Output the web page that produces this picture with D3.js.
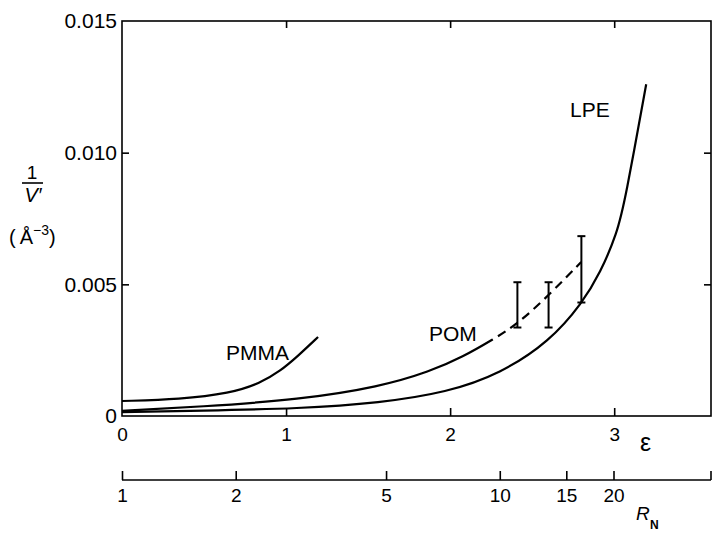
<!DOCTYPE html>
<html>
<head>
<meta charset="utf-8">
<script src="https://cdn.jsdelivr.net/npm/d3@7"></script>
<style>
  body { margin: 0; background: #fff; }
  svg { display: block; }
  text { font-family: "Liberation Sans", Arial, sans-serif; fill: #000; }
</style>
</head>
<body>
<div id="canvas"></div>
<script>
// data
var epsTicks = [0, 1, 2, 3];
var yTicks = [0, 0.005, 0.010, 0.015];
var yTickLabels = ['0', '0.005', '0.010', '0.015'];
var rnTicks = [1, 2, 5, 10, 15, 20];

var pmmaEps = [0, 0.354, 0.659, 0.841, 0.963, 1.073, 1.195];
var pmmaV   = [0.00057, 0.00063, 0.00086, 0.00124, 0.0017, 0.00228, 0.0030];

// POM: solid up to eps 2.26, dashed beyond
var pomEps = [0, 0.476, 1.085, 1.573, 1.878, 2.079, 2.262, 2.409, 2.604, 2.799];
var pomV   = [0.0002, 0.00035, 0.00062, 0.00111, 0.00169, 0.00225, 0.00291, 0.00348, 0.0046, 0.00585];
var pomSolidEnd = 2.26;

var lpeEps = [0, 0.476, 1.085, 1.573, 1.982, 2.305, 2.61, 2.805, 2.915, 3.018, 3.067, 3.195];
var lpeV   = [0.00015, 0.0002, 0.00028, 0.0005, 0.0009, 0.0016, 0.00285, 0.00429, 0.00543, 0.00695, 0.0082, 0.0126];

var barEps = [2.41, 2.60, 2.80];
var barLo  = [0.00336, 0.00336, 0.00431];
var barHi  = [0.00508, 0.00508, 0.00683];

var W = 713, H = 534;
var m = {t:21, r:2, l:122};
var epsMax = 3.59;

var svg = d3.select('#canvas').append('svg')
    .attr('width', W).attr('height', H);

var x = d3.scaleLinear().domain([0, epsMax]).range([m.l, W - m.r]);
var y = d3.scaleLinear().domain([0, 0.015]).range([416, m.t]);
var rn = d3.scaleLog().domain([1, Math.exp(epsMax)]).range([m.l, W - m.r]);

// frame
svg.append('rect')
    .attr('x', x(0)).attr('y', y(0.015))
    .attr('width', x(epsMax) - x(0)).attr('height', y(0) - y(0.015))
    .attr('fill', 'none').attr('stroke', '#000').attr('stroke-width', 1.6);

// bottom axis (epsilon) ticks inward
var axB = d3.axisBottom(x).tickValues(epsTicks).tickSize(-8).tickFormat(d3.format('d'));
var gB = svg.append('g').attr('transform', 'translate(0,' + y(0) + ')').call(axB);
var axT = d3.axisTop(x).tickValues([1, 2, 3]).tickSize(-7).tickFormat('');
var gT = svg.append('g').attr('transform', 'translate(0,' + y(0.015) + ')').call(axT);

// left axis ticks inward
var axL = d3.axisLeft(y).tickValues(yTicks).tickSize(-7)
    .tickFormat(function(d, i) { return yTickLabels[i]; });
var gL = svg.append('g').attr('transform', 'translate(' + x(0) + ',0)').call(axL);
var axR = d3.axisRight(y).tickValues([0.005, 0.010]).tickSize(-7).tickFormat('');
var gR = svg.append('g').attr('transform', 'translate(' + x(epsMax) + ',0)').call(axR);

[gB, gT, gL, gR].forEach(function(g) {
  g.select('.domain').remove();
  g.selectAll('.tick line').attr('stroke', '#000').attr('stroke-width', 1.6);
  g.selectAll('text').attr('font-family', null);
});
gB.selectAll('.tick text').style('font-size', '19px').attr('dy', '0.35em').attr('y', 18);
gL.selectAll('.tick text').style('font-size', '21px').attr('x', -5);
gB.selectAll('.tick').filter(function(d) { return d === 0; }).select('line').remove();
gL.selectAll('.tick').filter(function(d) { return d === 0 || d === 0.015; }).select('line').remove();

// R_N axis (log, R_N = exp(eps))
var rnY = 480;
var axN = d3.axisBottom(rn).tickValues(rnTicks).tickSize(-9).tickFormat(d3.format('d'));
var gN = svg.append('g').attr('transform', 'translate(0,' + rnY + ')').call(axN);
gN.select('.domain').remove();
gN.append('line').attr('x1', rn(1)).attr('x2', rn(Math.exp(epsMax)))
    .attr('stroke', '#000').attr('stroke-width', 1.6);
gN.append('line').attr('x1', rn(Math.exp(epsMax))).attr('x2', rn(Math.exp(epsMax)))
    .attr('y1', 0).attr('y2', -9).attr('stroke', '#000').attr('stroke-width', 1.6);
gN.selectAll('.tick line').attr('stroke', '#000').attr('stroke-width', 1.6);
gN.selectAll('.tick text').style('font-size', '19px').attr('font-family', null)
    .attr('dy', '0.35em').attr('y', 15);

// curves
var line = d3.line()
    .x(function(d) { return x(d[0]); })
    .y(function(d) { return y(d[1]); })
    .curve(d3.curveBasis);

function draw(eps, v) {
  return svg.append('path')
      .datum(d3.zip(eps, v))
      .attr('d', line)
      .attr('fill', 'none')
      .attr('stroke', '#000')
      .attr('stroke-width', 2.2);
}
draw(pmmaEps, pmmaV);
draw(lpeEps, lpeV);

// POM drawn as one path, solid then dashed
var pom = draw(pomEps, pomV);
var node = pom.node(), total = node.getTotalLength();
var lo = 0, hi = total, target = x(pomSolidEnd);
for (var k = 0; k < 30; k++) {
  var mid = (lo + hi) / 2;
  if (node.getPointAtLength(mid).x < target) lo = mid; else hi = mid;
}
var dashes = [lo];
for (var s = lo; s < total + 30; s += 15) dashes.push(6, 9);
pom.attr('stroke-dasharray', dashes.join(','));

// error bars
var bars = svg.selectAll('.bar').data(d3.range(barEps.length)).enter().append('g').attr('class', 'bar');
bars.append('line')
    .attr('x1', function(i) { return x(barEps[i]); }).attr('x2', function(i) { return x(barEps[i]); })
    .attr('y1', function(i) { return y(barLo[i]); }).attr('y2', function(i) { return y(barHi[i]); })
    .attr('stroke', '#000').attr('stroke-width', 2);
[barLo, barHi].forEach(function(arr) {
  bars.append('line')
      .attr('x1', function(i) { return x(barEps[i]) - 4; }).attr('x2', function(i) { return x(barEps[i]) + 4; })
      .attr('y1', function(i) { return y(arr[i]); }).attr('y2', function(i) { return y(arr[i]); })
      .attr('stroke', '#000').attr('stroke-width', 2);
});

// curve labels
function label(txt, xx, yy, size) {
  return svg.append('text').attr('x', xx).attr('y', yy)
      .style('font-size', (size || 21) + 'px').text(txt);
}
label('PMMA', 226, 360);
label('POM', 429, 341);
label('LPE', 570, 117);

// axis titles
label('\u03b5', 640, 451, 25);
svg.append('text').attr('x', 636).attr('y', 520)
    .style('font-size', '19px').style('font-style', 'italic').text('R');
svg.append('text').attr('x', 650).attr('y', 529)
    .style('font-size', '12px').style('font-weight', 'bold').text('N');

// y title: 1/V' over (Å^-3)
svg.append('text').attr('x', 32).attr('y', 179).attr('text-anchor', 'middle')
    .style('font-size', '19px').text('1');
svg.append('line').attr('x1', 22).attr('x2', 43).attr('y1', 183).attr('y2', 183)
    .attr('stroke', '#000').attr('stroke-width', 1.6);
svg.append('text').attr('x', 33).attr('y', 202).attr('text-anchor', 'middle')
    .style('font-size', '20px').style('font-style', 'italic').text('V\u2032');
var ang = svg.append('text').attr('x', 9).attr('y', 244).style('font-size', '20px');
ang.append('tspan').text('(\u2009\u00c5');
ang.append('tspan').attr('dy', -9).style('font-size', '14px').text('\u22123');
ang.append('tspan').attr('dy', 9).text(')');
</script>
</body>
</html>
